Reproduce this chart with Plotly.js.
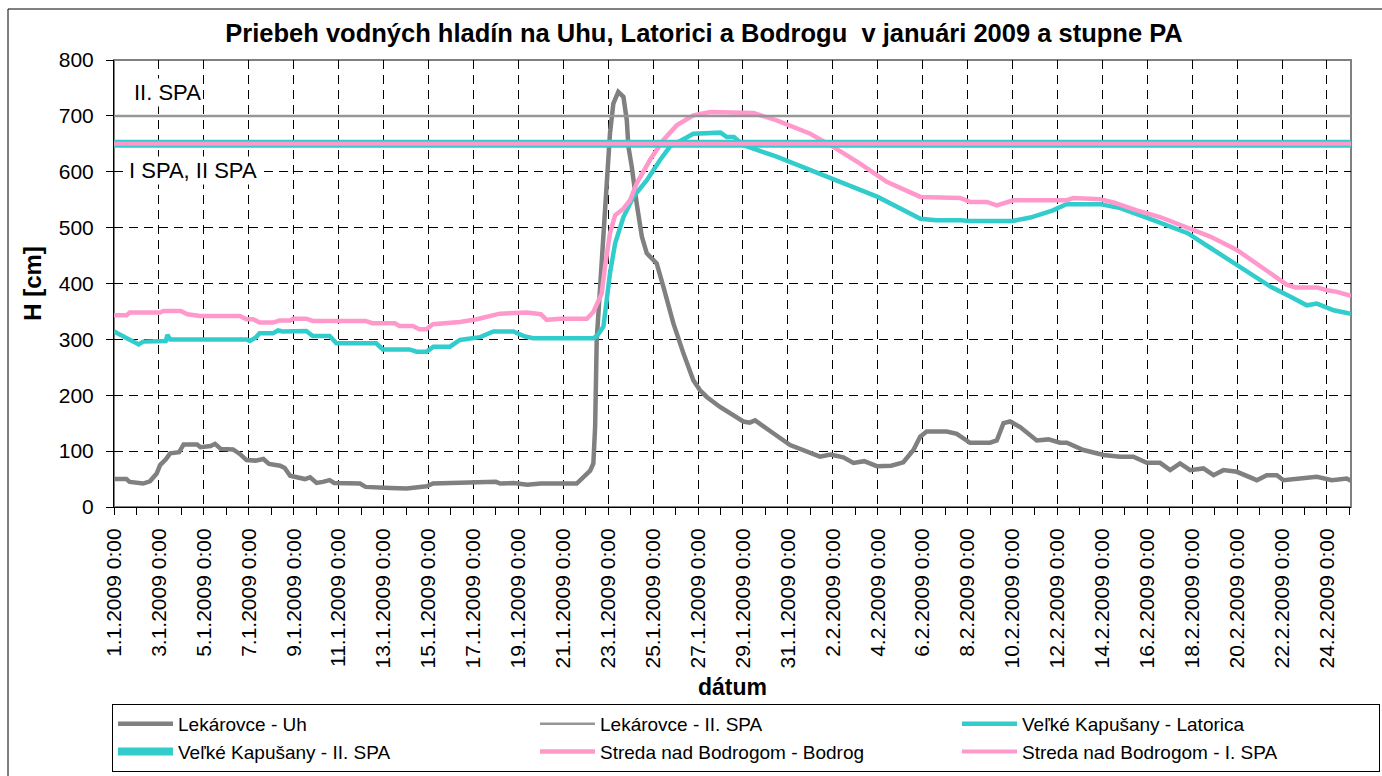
<!DOCTYPE html>
<html>
<head>
<meta charset="utf-8">
<script src="https://cdn.plot.ly/plotly-3.0.1.min.js"></script>
<style>
  html, body { margin: 0; padding: 0; background: #fff; }
  #chart { width: 1382px; height: 776px; }
</style>
</head>
<body>
<div id="chart"></div>
<script>
// Time of each reading, in days after 1.1.2009 0:00, and the water level H [cm]

// Lekárovce - Uh
const uhDay = [0, 0.55, 0.7, 1.3, 1.6, 1.9, 2.05, 2.3, 2.5, 2.9, 3.1, 3.7, 3.85, 4.3, 4.5, 4.75, 5.3, 5.6, 5.9, 6.3,
  6.65, 6.9, 7.4, 7.6, 7.84, 8.2, 8.5, 8.73, 9.02, 9.3, 9.6, 9.8, 10.95, 11.2, 11.98, 12.3, 13.03, 13.5, 13.92, 14.2,
  15.4, 17.0, 17.2, 17.8, 18.4, 19.0, 20.6, 20.9, 21.2, 21.34, 21.42, 21.49, 21.71, 21.86, 22.01, 22.08, 22.23, 22.45,
  22.68, 22.83, 22.9, 23.05, 23.27, 23.5, 23.72, 24.16, 24.46, 24.9, 25.35, 25.79, 26.09, 26.39, 26.98, 28.02, 28.3,
  28.54, 29.35, 30.1, 31.43, 31.9, 32.47, 32.92, 33.4, 33.96, 34.6, 35.14, 35.59, 35.89, 36.18, 37.07, 37.52, 38.11,
  39.0, 39.3, 39.6, 39.89, 40.34, 41.08, 41.6, 42.12, 42.42, 43.16, 44.05, 44.79, 45.38, 45.98, 46.57, 47.02, 47.46,
  47.91, 48.5, 48.95, 49.39, 49.99, 50.88, 51.32, 51.77, 52.06, 52.8, 53.55, 54.22, 54.88, 55.07];
const uhH = [50, 50, 45, 42, 46, 60, 75, 85, 96, 98, 112, 112, 107, 109, 113, 104, 103, 95, 84, 83,
  86, 77, 74, 70, 56, 52, 50, 53, 43, 45, 48, 43, 42, 36, 36, 34, 33, 35, 37, 42,
  43, 45, 42, 43, 40, 42, 42, 54, 65, 78, 144, 299, 442, 525, 621, 668, 722, 743,
  734, 692, 645, 609, 543, 484, 454, 436, 394, 329, 275, 227, 209, 197, 179, 153, 151,
  155, 132, 111, 90, 94, 89, 79, 82, 73, 74, 80, 102, 126, 135, 135, 131, 115,
  115, 119, 150, 153, 143, 119, 121, 115, 115, 102, 93, 90, 90, 79, 79, 66, 78,
  66, 69, 57, 66, 63, 48, 57, 57, 48, 51, 54, 48, 51, 47];

// Veľké Kapušany - Latorica
const latDay = [0, 0.42, 0.86, 1.1, 1.3, 2.3, 2.38, 2.5, 5.9, 6.05, 6.3, 6.48, 7.08, 7.3, 7.5, 8.56, 8.85, 9.6, 9.9,
  11.67, 11.97, 13.16, 13.47, 13.92, 14.22, 14.96, 15.4, 16.3, 16.89, 17.78, 18.3, 18.67, 21.34, 21.5, 21.79, 21.94,
  22.08, 22.31, 22.68, 23.12, 23.72, 24.31, 24.75, 25.35, 25.79, 27.0, 27.28, 27.6, 28.0, 29.5, 31.7, 34.0, 35.9,
  36.6, 37.7, 38.1, 40.0, 40.8, 41.8, 42.4, 43.9, 44.8, 46.3, 47.8, 48.8, 50.0, 51.5, 52.4, 53.1, 53.55, 54.3, 55.07];
const latH = [314, 306, 296, 291, 296, 297, 308, 300, 300, 297, 303, 311, 311, 316, 314, 315, 306, 306, 293,
  293, 282, 282, 278, 278, 287, 287, 299, 304, 314, 314, 305, 302, 302, 306, 323, 370,
  418, 472, 519, 555, 585, 621, 645, 658, 668, 670, 662, 662, 648, 627, 591, 555, 516,
  513, 513, 512, 512, 518, 531, 542, 542, 535, 513, 490, 464, 432, 394, 376, 361, 364, 352, 346];

// Streda nad Bodrogom - Bodrog
const bodDay = [0, 0.56, 0.7, 2.05, 2.2, 2.97, 3.27, 3.83, 5.6, 5.9, 6.2, 6.48, 7.08, 7.37, 7.84, 7.98, 8.56, 8.85,
  11.2, 11.5, 12.5, 12.7, 13.3, 13.6, 13.9, 14.2, 15.4, 16.15, 17.18, 18.37, 19.0, 19.26, 19.86, 21.05, 21.34, 21.71,
  21.86, 22.08, 22.31, 22.68, 22.97, 23.27, 23.86, 24.46, 25.05, 25.79, 26.54, 28.47, 29.5, 31.0, 32.0, 33.2, 34.4,
  35.9, 37.67, 38.11, 38.85, 39.3, 40.04, 42.42, 42.71, 43.9, 44.5, 45.53, 46.57, 47.76, 48.8, 49.99, 50.73, 51.47,
  52.21, 52.6, 53.55, 54.0, 54.44, 55.07];
const bodH = [343, 343, 348, 348, 351, 351, 345, 342, 342, 336, 336, 330, 330, 334, 334, 337, 337, 333,
  333, 329, 329, 324, 324, 318, 318, 327, 331, 336, 346, 348, 345, 335, 337, 337, 349, 382,
  430, 490, 522, 534, 549, 579, 621, 657, 683, 701, 707, 705, 692, 668, 645, 615, 582,
  555, 553, 546, 546, 540, 549, 549, 553, 551, 545, 531, 519, 501, 484, 460, 440, 418,
  398, 393, 393, 388, 385, 378];

// Flood warning levels (stupne povodňovej aktivity) [cm]
const spaLekarovceII = 700;
const spaKapusanyII = 650;
const spaStredaI = 650;

const seriesNames = [
  'Lekárovce - Uh',
  'Lekárovce - II. SPA',
  'Veľké Kapušany - Latorica',
  'Veľké Kapušany - II. SPA',
  'Streda nad Bodrogom - Bodrog',
  'Streda nad Bodrogom - I. SPA'
];

const startDay = 0;
const endDay = 55.07;

// day offset -> "YYYY-MM-DD HH:MM"
function toDate(d) {
  const ms = Date.UTC(2009, 0, 1) + Math.round(d * 1440) * 60000;
  return new Date(ms).toISOString().slice(0, 16).replace('T', ' ');
}

const span = [toDate(startDay), toDate(endDay)];

const C_GRAY = '#808080', C_GRAY_SPA = '#969696', C_TEAL = '#33CCCC', C_PINK = '#FF99CC';

const traces = [
  { name: seriesNames[0], x: uhDay.map(toDate), y: uhH, mode: 'lines',
    line: { color: C_GRAY, width: 4.5 }, legendrank: 1 },
  { name: seriesNames[2], x: latDay.map(toDate), y: latH, mode: 'lines',
    line: { color: C_TEAL, width: 4.5 }, legendrank: 3 },
  { name: seriesNames[4], x: bodDay.map(toDate), y: bodH, mode: 'lines',
    line: { color: C_PINK, width: 4.5 }, legendrank: 5 },
  { name: seriesNames[1], x: span, y: [spaLekarovceII, spaLekarovceII], mode: 'lines',
    line: { color: C_GRAY_SPA, width: 2.5 }, legendrank: 2 },
  { name: seriesNames[3], x: span, y: [spaKapusanyII, spaKapusanyII], mode: 'lines',
    line: { color: C_TEAL, width: 8 }, legendrank: 4 },
  { name: seriesNames[5], x: span, y: [spaStredaI, spaStredaI], mode: 'lines',
    line: { color: C_PINK, width: 4 }, legendrank: 6 }
];

// plot area in pixels: left 114, right 1351, top 60, bottom 507
const PW = 1237, PH = 447;
const px2x = p => (p - 114) / PW;
const px2y = p => (507 - p) / PH;

const layout = {
  width: 1382,
  height: 776,
  margin: { l: 114, r: 31, t: 60, b: 269, autoexpand: false },
  paper_bgcolor: '#fff',
  plot_bgcolor: '#fff',
  font: { family: 'Liberation Sans, Arial, sans-serif', color: '#000', size: 21 },
  showlegend: true,
  title: {
    text: '<b>Priebeh vodných hladín na Uhu, Latorici a Bodrogu  v januári 2009 a stupne PA</b>',
    font: { size: 25.5, color: '#000' },
    xref: 'paper', x: px2x(704), xanchor: 'center',
    yref: 'container', y: 1 - 33 / 776, yanchor: 'middle'
  },
  xaxis: {
    type: 'date',
    range: span,
    tick0: toDate(0),
    dtick: 2 * 86400000,
    tickformat: '%-d.%-m.%Y %-H:%M',
    tickangle: -90,
    ticks: 'outside', ticklen: 7, tickcolor: '#000', tickwidth: 1,
    tickfont: { size: 21 },
    ticklabelstandoff: 5,
    showline: true, linecolor: '#000', linewidth: 1,
    showgrid: true, gridcolor: '#000', gridwidth: 1, griddash: '9px,6px',
    zeroline: false,
    minor: { dtick: 86400000, ticks: 'outside', ticklen: 7, tickcolor: '#000', showgrid: false },
    title: { text: '<b>dátum</b>', font: { size: 23 }, standoff: 11 },
    fixedrange: true
  },
  yaxis: {
    range: [0, 800],
    tick0: 0, dtick: 100,
    ticks: 'outside', ticklen: 7, tickcolor: '#000', tickwidth: 1,
    tickfont: { size: 21 },
    ticklabelstandoff: 8,
    showline: true, linecolor: '#000', linewidth: 1,
    showgrid: true, gridcolor: '#000', gridwidth: 1, griddash: '9px,6px',
    zeroline: false,
    title: { text: '<b>H [cm]</b>', font: { size: 24 }, standoff: 10 },
    fixedrange: true
  },
  legend: {
    orientation: 'h',
    xref: 'paper', yref: 'paper',
    x: px2x(112), xanchor: 'left',
    y: px2y(704), yanchor: 'top',
    bgcolor: '#fff', bordercolor: '#000', borderwidth: 1,
    font: { size: 19, color: '#000' },
    itemwidth: 55,
    entrywidth: 352, entrywidthmode: 'pixels',
    traceorder: 'normal',
    tracegroupgap: 0
  },
  annotations: [
    { text: 'II. SPA', xref: 'x', yref: 'y', x: toDate(0.8), y: 742,
      xanchor: 'left', yanchor: 'middle', showarrow: false, bgcolor: '#fff',
      font: { size: 22, color: '#000' } },
    { text: 'I SPA, II SPA', xref: 'x', yref: 'y', x: toDate(0.6), y: 603,
      xanchor: 'left', yanchor: 'middle', showarrow: false, bgcolor: '#fff',
      font: { size: 22, color: '#000' } }
  ],
  shapes: [
    // plot area frame
    { type: 'rect', xref: 'paper', yref: 'paper', x0: 0, x1: 1, y0: 0, y1: 1,
      line: { color: '#808080', width: 2 }, layer: 'below' },
    // chart frame
    { type: 'rect', xref: 'paper', yref: 'paper',
      x0: px2x(8), x1: px2x(1392), y0: px2y(790), y1: px2y(9),
      line: { color: '#000', width: 1 }, layer: 'below' }
  ]
};

Plotly.newPlot('chart', traces, layout, { displayModeBar: false, staticPlot: true });
</script>
</body>
</html>
